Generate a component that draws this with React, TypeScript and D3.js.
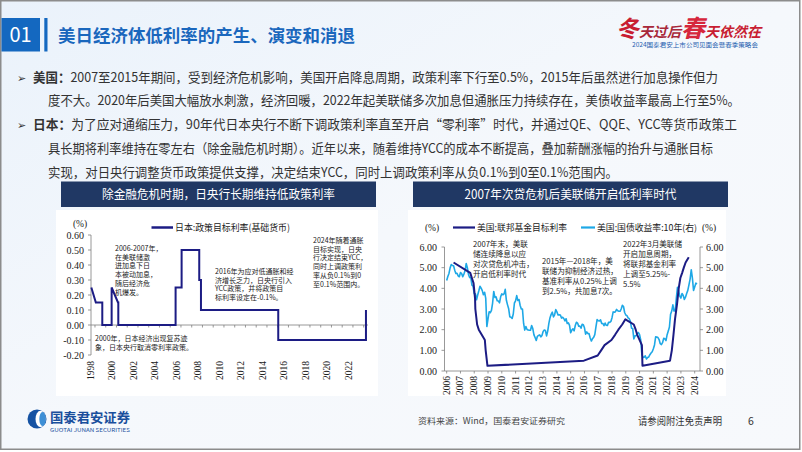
import React from 'react';
import * as d3 from 'd3';

const SANS = '"Noto Sans CJK SC", "Noto Sans", sans-serif';
const SERIF = '"Liberation Serif", "Noto Sans CJK SC", serif';

// ---------- Japan policy rate (sparse points at change dates) ----------
const jpDates = [1998.66, 1999.08, 1999.68, 1999.68, 2000.55, 2000.55, 2001.14, 2001.17, 2001.17, 2006.5, 2006.5, 2007.06, 2007.06, 2008.7, 2008.7, 2008.86, 2008.86, 2016.05, 2016.05, 2024.21, 2024.21];
const jpRates = [0.25, 0.15, 0.15, 0.0, 0.0, 0.25, 0.15, 0.15, 0.0, 0.0, 0.25, 0.25, 0.5, 0.5, 0.3, 0.3, 0.1, 0.1, -0.1, -0.1, 0.1];
const jpYTicks = [-0.2, -0.1, 0, 0.1, 0.2, 0.3, 0.4, 0.5, 0.6];
const jpYearLabels = [1998, 2000, 2002, 2004, 2006, 2008, 2010, 2012, 2014, 2016, 2018, 2020, 2022];

// ---------- US Fed funds target (upper) ----------
const fedDates = [2006.5, 2007.71, 2007.83, 2007.95, 2008.06, 2008.08, 2008.21, 2008.33, 2008.77, 2008.83, 2008.96, 2015.96, 2016.96, 2017.21, 2017.46, 2017.96, 2018.22, 2018.46, 2018.74, 2018.97, 2019.58, 2019.72, 2019.83, 2020.17, 2020.21, 2022.21, 2022.34, 2022.46, 2022.57, 2022.72, 2022.84, 2022.96, 2023.09, 2023.21, 2023.34, 2023.57];
const fedRates = [5.25, 4.75, 4.5, 4.25, 3.5, 3.0, 2.25, 2.0, 1.5, 1.0, 0.25, 0.5, 0.75, 1.0, 1.25, 1.5, 1.75, 2.0, 2.25, 2.5, 2.25, 2.0, 1.75, 1.25, 0.25, 0.5, 1.0, 1.75, 2.5, 3.25, 4.0, 4.5, 4.75, 5.0, 5.25, 5.5];

// ---------- US 10Y Treasury yield, monthly from Jan 2006 ----------
const t10Start = 2006;
const t10 = [
  4.38, 4.57, 4.72, 4.99, 5.15, 5.11, 5.09, 4.88, 4.72, 4.73, 4.60, 4.56,
  4.76, 4.72, 4.56, 4.69, 4.85, 5.20, 5.00, 4.67, 4.52, 4.53, 4.15, 4.10,
  3.74, 3.74, 3.45, 3.68, 3.88, 4.10, 4.01, 3.89, 3.69, 3.81, 3.53, 2.15,
  2.52, 2.87, 2.82, 2.93, 3.29, 3.85, 3.56, 3.59, 3.40, 3.39, 3.30, 3.59,
  3.73, 3.69, 3.73, 3.95, 3.42, 3.20, 3.01, 2.62, 2.60, 2.54, 2.76, 3.29,
  3.39, 3.65, 3.41, 3.46, 3.17, 3.00, 3.00, 2.30, 1.98, 2.15, 2.01, 1.98,
  1.97, 1.97, 2.20, 2.05, 1.75, 1.62, 1.48, 1.68, 1.72, 1.75, 1.65, 1.72,
  1.91, 1.98, 1.96, 1.70, 1.93, 2.30, 2.58, 2.74, 2.85, 2.62, 2.72, 2.97,
  2.86, 2.71, 2.72, 2.71, 2.56, 2.60, 2.54, 2.42, 2.53, 2.30, 2.33, 2.21,
  1.85, 1.98, 2.04, 1.94, 2.20, 2.36, 2.32, 2.17, 2.17, 2.07, 2.26, 2.24,
  2.09, 1.78, 1.89, 1.81, 1.81, 1.60, 1.45, 1.56, 1.63, 1.76, 2.14, 2.49,
  2.43, 2.42, 2.48, 2.30, 2.30, 2.19, 2.32, 2.21, 2.20, 2.36, 2.35, 2.40,
  2.58, 2.86, 2.84, 2.87, 2.98, 2.91, 2.89, 2.89, 3.00, 3.18, 3.12, 2.83,
  2.71, 2.68, 2.57, 2.53, 2.40, 2.07, 2.06, 1.55, 1.70, 1.71, 1.81, 1.86,
  1.76, 1.50, 0.80, 0.66, 0.67, 0.73, 0.58, 0.65, 0.68, 0.79, 0.87, 0.93,
  1.08, 1.26, 1.65, 1.64, 1.62, 1.52, 1.32, 1.28, 1.37, 1.58, 1.56, 1.47,
  1.76, 1.93, 2.13, 2.75, 2.90, 3.20, 2.90, 2.90, 3.52, 4.05, 3.89, 3.62,
  3.53, 3.75, 3.66, 3.46, 3.57, 3.75, 3.90, 4.17, 4.45, 4.90, 4.50, 3.90,
  4.06, 4.25, 4.21,
];
const usYTicks = [0, 1, 2, 3, 4, 5, 6];
const usYearLabels = d3.range(2006, 2025);

const bulletLines = [
  { bold: '美国：', text: '2007至2015年期间，受到经济危机影响，美国开启降息周期，政策利率下行至0.5%，2015年后虽然进行加息操作但力', x: 33, w: 685 },
  { bold: '', text: '度不大。2020年后美国大幅放水刺激，经济回暖，2022年起美联储多次加息但通胀压力持续存在，美债收益率最高上行至5%。', x: 48, w: 692 },
  { bold: '日本：', text: '为了应对通缩压力，90年代日本央行不断下调政策利率直至开启“零利率”时代，并通过QE、QQE、YCC等货币政策工', x: 33, w: 704 },
  { bold: '', text: '具长期将利率维持在零左右（除金融危机时期）。近年以来，随着维持YCC的成本不断提高，叠加薪酬涨幅的抬升与通胀目标', x: 48, w: 665 },
  { bold: '', text: '实现，对日央行调整货币政策提供支撑，决定结束YCC，同时上调政策利率从负0.1%到0至0.1%范围内。', x: 48, w: 570 },
];

const jpNotes = [
  { x: 115, y: 251, lines: ['2006-2007年，', '在美联储激', '进加息下日', '本被动加息，', '随后经济危', '机爆发。'] },
  { x: 215, y: 274, lines: ['2016年为应对低通胀和经', '济增长乏力，日央行引入', 'YCC政策，并将政策目', '标利率设定在-0.1%。'] },
  { x: 313, y: 243, lines: ['2024年随着通胀', '目标实现，日央', '行决定结束YCC，', '同时上调政策利', '率从负0.1%到0', '至0.1%范围内。'] },
  { x: 95, y: 341, lines: ['2000年，日本经济出现复苏迹', '象，日本央行取消零利率政策。'] },
];
const usNotes = [
  { x: 473, y: 247, lines: ['2007年末，美联', '储连续降息以应', '对次贷危机冲击，', '开启低利率时代'] },
  { x: 542, y: 264, lines: ['2015年—2018年，美', '联储为抑制经济过热，', '基准利率从0.25%上调', '到2.5%，共加息7次。'] },
  { x: 623, y: 247, lines: ['2022年3月美联储', '开启加息周期，', '将联邦基金利率', '上调至5.25%-', '5.5%'] },
];

const NAVY = '#1c1c84';
const SKY = '#1ea8e6';
const AX = '#7f7f7f';

export default function App() {
  // Japan chart scales
  const xJ = d3.scaleLinear().domain([1998.63, 2024.4]).range([91, 368]);
  const yJ = d3.scaleLinear().domain([-0.2, 0.6]).range([355, 235]);
  const jpLine = d3.line<number>().x((_, i) => xJ(jpDates[i])).y((d) => yJ(d))(jpRates) || '';

  // US chart scales
  const xU = d3.scaleLinear().domain([2005.9, 2024.4]).range([445.3, 700.2]);
  const yU = d3.scaleLinear().domain([0, 6]).range([371, 247]);
  const yU2 = d3.scaleLinear().domain([0, 6]).range([371, 247]);
  const fedLine = d3.line<number>().x((_, i) => xU(fedDates[i])).y((d) => yU(d))(fedRates) || '';
  const t10Line = d3.line<number>().x((_, i) => xU(t10Start + i / 12)).y((d) => yU2(d))(t10) || '';

  const jpYearTicks = d3.range(1999, 2025);
  const usTicks = d3.range(2006, 2025);

  return (
    <svg width={802} height={452} viewBox="0 0 802 452" style={{ position: 'absolute', left: 0, top: 0, display: 'block' }}>
      <defs>
        <linearGradient id="bg" x1="0" y1="0" x2="1" y2="1">
          <stop offset="0" stopColor="#eaf2fb" />
          <stop offset="0.5" stopColor="#f5f8fc" />
          <stop offset="1" stopColor="#f7f9fc" />
        </linearGradient>
      </defs>
      <rect x={0} y={0} width={802} height={452} fill="#ffffff" />
      <rect x={0.75} y={0.75} width={799} height={448.5} fill="url(#bg)" stroke="#8c8c8c" strokeWidth={1.5} />

      {/* header */}
      <rect x={1.5} y={18} width={38.5} height={33.5} fill="#1468c0" />
      <text x={20.5} y={42} textAnchor="middle" fill="#fff" fontFamily={SANS} fontSize={20}>01</text>
      <rect x={44.3} y={18} width={3.2} height={33.5} fill="#1468c0" />
      <text x={58} y={41.5} fill="#1a67bd" fontFamily={SANS} fontSize={17.5} fontWeight={700} textLength={297} lengthAdjust="spacingAndGlyphs">美日经济体低利率的产生、演变和消退</text>

      {/* event logo */}
      <g transform="translate(616,37) skewX(-14)" fontFamily={SANS} fontWeight={700}>
        <text x={0} y={0}>
          <tspan fill="#c81d32" fontSize={23}>冬</tspan>
          <tspan fill="#a8283a" fontSize={14}>天过后</tspan>
          <tspan fill="#d6263c" fontSize={24}>春</tspan>
          <tspan fill="#c81d32" fontSize={14}>天依然在</tspan>
        </text>
      </g>
      <text x={632} y={46.5} fill="#1f5fb0" fontFamily={SANS} fontSize={6.2} textLength={126} lengthAdjust="spacingAndGlyphs">2024国泰君安上市公司见面会暨春季策略会</text>

      {/* bullets */}
      {bulletLines.map((b, i) => (
        <g key={i}>
          {b.bold && (
            <text x={17} y={81.5 + i * 23.8} fill="#333" fontFamily='"DejaVu Sans", sans-serif' fontSize={11}>➢</text>
          )}
          <text x={b.x} y={81.5 + i * 23.8} fill="#333" fontFamily={SANS} fontSize={13} textLength={b.w} lengthAdjust="spacingAndGlyphs">
            {b.bold && <tspan fontWeight={700}>{b.bold}</tspan>}
            {b.text}
          </text>
        </g>
      ))}

      {/* ======== Left chart ======== */}
      <rect x={56} y={210} width={322} height={186} fill="#ffffff" />
      <rect x={61} y={181.5} width={315} height={25.5} fill="#203864" />
      <text x={218.5} y={198.5} textAnchor="middle" fill="#fff" fontFamily={SANS} fontSize={12.5} textLength={233} lengthAdjust="spacingAndGlyphs">除金融危机时期，日央行长期维持低政策利率</text>

      <text x={80} y={227} textAnchor="middle" fill="#222" fontFamily={SERIF} fontSize={9.5}>(%)</text>
      <line x1={151.5} x2={173} y1={227.5} y2={227.5} stroke={NAVY} strokeWidth={2.5} />
      <text x={175} y={231} fill="#222" fontFamily={SANS} fontSize={9.5} textLength={115} lengthAdjust="spacingAndGlyphs">日本:政策目标利率(基础货币)</text>

      {/* y axis */}
      <line x1={91} x2={91} y1={yJ(0.6)} y2={yJ(-0.2)} stroke={AX} strokeWidth={0.8} />
      {jpYTicks.map((t) => (
        <g key={t}>
          <line x1={88} x2={91} y1={yJ(t)} y2={yJ(t)} stroke={AX} strokeWidth={0.8} />
          <text x={84} y={yJ(t)} dy="0.35em" textAnchor="end" fill="#222" fontFamily={SERIF} fontSize={10}>{t.toFixed(2)}</text>
        </g>
      ))}
      {/* x axis at zero */}
      <line x1={91} x2={368} y1={yJ(0)} y2={yJ(0)} stroke={AX} strokeWidth={0.8} />
      {jpYearTicks.map((t) => (
        <line key={t} x1={xJ(t)} x2={xJ(t)} y1={yJ(0)} y2={yJ(0) + 2.5} stroke={AX} strokeWidth={0.8} />
      ))}
      {jpYearLabels.map((t) => (
        <text key={t} transform={`translate(${xJ(t + 0.63)},361) rotate(-90)`} textAnchor="end" dominantBaseline="central" fill="#222" fontFamily={SERIF} fontSize={9.5}>{t}</text>
      ))}
      <path d={jpLine} fill="none" stroke={NAVY} strokeWidth={2} strokeLinejoin="miter" />
      {jpNotes.map((n, i) => (
        <text key={i} fill="#222" fontFamily={SANS} fontSize={7}>
          {n.lines.map((l, j) => (
            <tspan key={j} x={n.x} y={n.y + j * 8.7}>{l}</tspan>
          ))}
        </text>
      ))}

      {/* ======== Right chart ======== */}
      <rect x={408} y={210} width={318} height={186} fill="#ffffff" />
      <rect x={413} y={181.5} width={315} height={25.5} fill="#203864" />
      <text x={570.5} y={198.5} textAnchor="middle" fill="#fff" fontFamily={SANS} fontSize={12.5} textLength={212} lengthAdjust="spacingAndGlyphs">2007年次贷危机后美联储开启低利率时代</text>

      <text x={432} y={230.5} textAnchor="middle" fill="#222" fontFamily={SERIF} fontSize={9.5}>(%)</text>
      <line x1={453} x2={475} y1={227.5} y2={227.5} stroke={NAVY} strokeWidth={2.2} />
      <text x={477} y={231} fill="#222" fontFamily={SANS} fontSize={9} textLength={90} lengthAdjust="spacingAndGlyphs">美国:联邦基金目标利率</text>
      <line x1={581} x2={595} y1={227.5} y2={227.5} stroke={SKY} strokeWidth={2.2} />
      <text x={597} y={231} fill="#222" fontFamily={SANS} fontSize={9} textLength={100} lengthAdjust="spacingAndGlyphs">美国:国债收益率:10年(右)</text>
      <text x={709} y={230.5} textAnchor="middle" fill="#222" fontFamily={SERIF} fontSize={9.5}>(%)</text>

      <line x1={444.5} x2={444.5} y1={yU(6)} y2={yU(0)} stroke={AX} strokeWidth={0.8} />
      <line x1={700} x2={700} y1={yU2(6)} y2={yU2(0)} stroke={AX} strokeWidth={0.8} />
      <line x1={444.5} x2={700} y1={yU(0)} y2={yU(0)} stroke={AX} strokeWidth={0.8} />
      {usYTicks.map((t) => (
        <g key={t}>
          <line x1={441.5} x2={444.5} y1={yU(t)} y2={yU(t)} stroke={AX} strokeWidth={0.8} />
          <text x={437} y={yU(t)} dy="0.35em" textAnchor="end" fill="#222" fontFamily={SERIF} fontSize={10}>{t.toFixed(2)}</text>
          <line x1={700} x2={703} y1={yU2(t)} y2={yU2(t)} stroke={AX} strokeWidth={0.8} />
          <text x={706} y={yU2(t)} dy="0.35em" textAnchor="start" fill="#222" fontFamily={SERIF} fontSize={10}>{t.toFixed(2)}</text>
        </g>
      ))}
      {usTicks.map((t) => (
        <line key={t} x1={xU(t)} x2={xU(t)} y1={yU(0)} y2={yU(0) + 2.5} stroke={AX} strokeWidth={0.8} />
      ))}
      {usYearLabels.map((t) => (
        <text key={t} transform={`translate(${xU(t)},376) rotate(-90)`} textAnchor="end" dominantBaseline="central" fill="#222" fontFamily={SERIF} fontSize={9.5}>{t}</text>
      ))}
      <path d={t10Line} fill="none" stroke={SKY} strokeWidth={1.6} strokeLinejoin="round" />
      <path d={fedLine} fill="none" stroke={NAVY} strokeWidth={2} strokeLinejoin="round" />
      {usNotes.map((n, i) => (
        <text key={i} fill="#222" fontFamily={SANS} fontSize={7.6}>
          {n.lines.map((l, j) => (
            <tspan key={j} x={n.x} y={n.y + j * 10}>{l}</tspan>
          ))}
        </text>
      ))}

      {/* footer */}
      <circle cx={37} cy={419} r={9.5} fill="#1552a3" />
      <ellipse cx={40.5} cy={419} rx={5} ry={8.3} fill="#ffffff" />
      <ellipse cx={42.5} cy={419} rx={3.2} ry={7} fill="#3d8fd6" />
      <text x={50} y={421.5} fill="#1a4f9c" fontFamily={SANS} fontSize={13} fontWeight={700} textLength={80} lengthAdjust="spacingAndGlyphs">国泰君安证券</text>
      <text x={50} y={432} fill="#1a4f9c" fontFamily={SANS} fontSize={5} textLength={80} lengthAdjust="spacingAndGlyphs">GUOTAI JUNAN SECURITIES</text>
      <text x={418} y={424} fill="#444" fontFamily={SANS} fontSize={8.5} textLength={147} lengthAdjust="spacingAndGlyphs">资料来源：Wind，国泰君安证券研究</text>
      <text x={638} y={425} fill="#333" fontFamily={SANS} fontSize={10.5} textLength={84} lengthAdjust="spacingAndGlyphs">请参阅附注免责声明</text>
      <text x={748} y={425} fill="#333" fontFamily={SANS} fontSize={10.5}>6</text>
    </svg>
  );
}
